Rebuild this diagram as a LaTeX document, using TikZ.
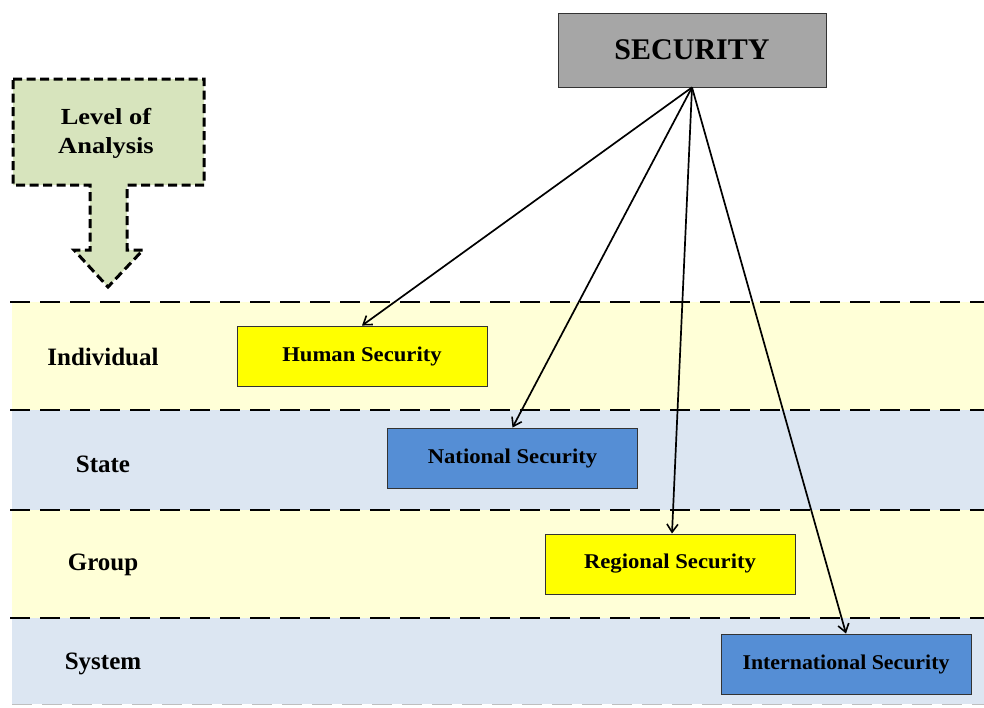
\documentclass[tikz,border=0pt]{standalone}
\usepackage{fontspec}
\setmainfont{Liberation Serif}
\usetikzlibrary{arrows.meta}

\definecolor{bandyellow}{RGB}{255,255,215}
\definecolor{bandblue}{RGB}{220,230,242}
\definecolor{secgray}{RGB}{166,166,166}
\definecolor{boxblue}{RGB}{85,142,213}
\definecolor{boxyellow}{RGB}{255,255,0}
\definecolor{levelgreen}{RGB}{215,228,189}

\tikzset{every picture/.style={line width=0.75pt}}
\tikzset{
  levelbox/.style={draw=black!80, line width=0.9pt, minimum width=250pt, minimum height=60pt, inner sep=0pt, font=\bfseries\fontsize{21}{24}\selectfont},
  bandline/.style={dash pattern=on 20pt off 10pt, line width=2.2pt},
  bandlabel/.style={inner sep=0.75pt, font=\bfseries\fontsize{25}{28}\selectfont},
  link/.style={line width=1.7pt, -{Straight Barb[length=8pt,width=11pt,line width=1.6pt]}}
}

\begin{document}
\begin{tikzpicture}[x=1pt,y=1pt,yscale=-1,xscale=1]
\useasboundingbox (0,0) rectangle (984,707);

%Shape: Rectangle [bands]
\fill [bandyellow] (12,302) rectangle (984,410);
\fill [bandblue] (12,410) rectangle (984,510);
\fill [bandyellow] (12,510) rectangle (984,618);
\fill [bandblue] (12,618) rectangle (984,704);

%Straight Lines [band borders]
\draw [bandline] (10,302) -- (984,302);
\draw [bandline] (10,410) -- (984,410);
\draw [bandline] (10,510) -- (984,510);
\draw [bandline] (10,618) -- (984,618);
\draw [bandline, line width=0.8pt, draw=black!25] (12,704) -- (984,704);

%Shape: Down Arrow Callout
\draw [fill=levelgreen, line width=3pt, dash pattern=on 9pt off 4.5pt] (13,79) -- (204,79) -- (204,185) -- (127,185) -- (127,250) -- (143,250) -- (108,287) -- (74,250) -- (90,250) -- (90,185) -- (13,185) -- cycle ;

% Text Node
\node (level) [align=center, inner sep=0.75pt, font=\bfseries\fontsize{23}{29}\selectfont] at (106,133) {\scalebox{1.15}[1]{Level of}\\\scalebox{1.15}[1]{Analysis}};

%Shape: Rectangle [SECURITY]
\node (sec) [draw=black!80, fill=secgray, minimum width=268pt, minimum height=74pt, inner sep=0pt, font=\bfseries\fontsize{30}{34}\selectfont] at (692,50) {SECURITY};

%Shape: Rectangle [security levels]
\node (human) [levelbox, fill=boxyellow] at (362,356) {\scalebox{1.08}[1]{Human Security}};
\node (national) [levelbox, fill=boxblue] at (512.5,458) {\scalebox{1.08}[1]{National Security}};
\node (regional) [levelbox, fill=boxyellow] at (670,564) {\scalebox{1.08}[1]{Regional Security}};
\node (intl) [levelbox, fill=boxblue] at (846,664) {\scalebox{1.04}[1]{International Security}};

% Text Node
\node (individual) [bandlabel] at (103,357) {Individual};
\node (state) [bandlabel] at (103,464) {State};
\node (group) [bandlabel] at (103,565) {Group};
\node (system) [bandlabel] at (103,664) {System};

%Straight Lines [arrows]
\draw [link] (sec.south) -- (human.north);
\draw [link] (sec.south) -- (national.north);
\draw [link] (sec.south) -- ([xshift=2pt]regional.north);
\draw [link] (sec.south) -- (intl.north);

\end{tikzpicture}
\end{document}
